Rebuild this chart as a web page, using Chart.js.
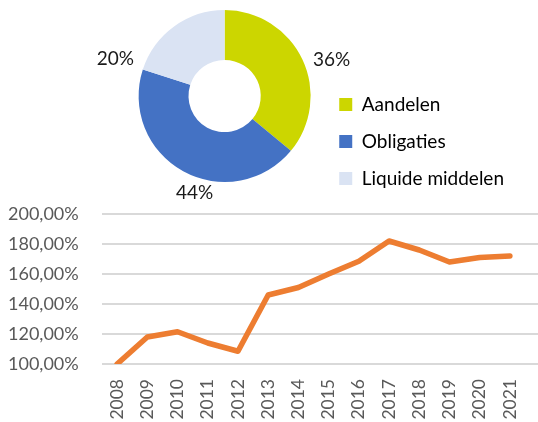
<!DOCTYPE html>
<html>
<head>
<meta charset="utf-8">
<script src="https://cdn.jsdelivr.net/npm/chart.js@4.4.0/dist/chart.umd.min.js"></script>
<style>
  html, body { margin: 0; padding: 0; background: #fff; }
  #wrap { position: relative; width: 538px; height: 422px; overflow: hidden; }
  #pieBox { position: absolute; left: 0; top: 0; width: 538px; height: 212px; }
  #lineBox { position: absolute; left: 0; top: 200px; width: 538px; height: 222px; }
</style>
</head>
<body>
<div id="wrap">
  <div id="pieBox"><canvas id="pieChart"></canvas></div>
  <div id="lineBox"><canvas id="lineChart"></canvas></div>
</div>
<script>
// allocation
const assetLabels = ["Aandelen", "Obligaties", "Liquide middelen"];
const assetShares = [36, 44, 20];
const assetColors = ["#CCD600", "#4472C4", "#DAE3F3"];

// performance since 2008
const years = [2008, 2009, 2010, 2011, 2012, 2013, 2014, 2015, 2016, 2017, 2018, 2019, 2020, 2021];
const indexValues = [100, 118, 121.5, 114, 108.5, 146, 151, 160, 168.5, 182, 176, 168, 171, 172];
const yTicks = [100, 120, 140, 160, 180, 200];

const fontFamily = "Lato, 'Open Sans', sans-serif";

// nudges for the percentage labels (Excel placed them by hand)
const labelNudges = [[11, 9], [21, 4], [-47, 49]];

const pctLabels = {
  id: "pctLabels",
  afterDatasetsDraw(chart) {
    const ctx = chart.ctx;
    const meta = chart.getDatasetMeta(0);
    ctx.save();
    ctx.font = "19px " + fontFamily;
    ctx.fillStyle = "#1a1a1a";
    ctx.textAlign = "center";
    ctx.textBaseline = "middle";
    meta.data.forEach((arc, i) => {
      const a = (arc.startAngle + arc.endAngle) / 2;
      const r = arc.outerRadius + 20;
      const x = arc.x + Math.cos(a) * r + labelNudges[i][0];
      const y = arc.y + Math.sin(a) * r + labelNudges[i][1];
      ctx.fillText(chart.data.datasets[0].data[i] + "%", x, y);
    });
    ctx.restore();
  }
};

// push the legend column down a bit, like the original
const legendShift = {
  id: "legendShift",
  afterLayout(chart) {
    chart.legend.top += 14;
    chart.legend.bottom += 14;
  }
};

new Chart(document.getElementById("pieChart"), {
  type: "doughnut",
  data: {
    labels: assetLabels,
    datasets: [{
      data: assetShares,
      backgroundColor: assetColors,
      borderWidth: 0,
      radius: 86,
      cutout: "42%"
    }]
  },
  options: {
    responsive: true,
    maintainAspectRatio: false,
    animation: false,
    layout: { padding: { top: 0, bottom: 20, left: 128, right: 24 } },
    plugins: {
      tooltip: { enabled: false },
      legend: {
        position: "right",
        align: "end",
        labels: {
          boxWidth: 13,
          boxHeight: 13,
          padding: 18,
          color: "#000",
          font: { family: fontFamily, size: 19 }
        }
      }
    }
  },
  plugins: [pctLabels, legendShift]
});

new Chart(document.getElementById("lineChart"), {
  type: "line",
  data: {
    datasets: [{
      data: years.map((y, i) => ({ x: y, y: indexValues[i] })),
      borderColor: "#ED7D31",
      borderWidth: 5.5,
      borderCapStyle: "round",
      borderJoinStyle: "round",
      pointRadius: 0,
      tension: 0,
      fill: false
    }]
  },
  options: {
    responsive: true,
    maintainAspectRatio: false,
    animation: false,
    layout: { padding: { top: 14, right: 0, left: 8, bottom: 0 } },
    plugins: { legend: { display: false }, tooltip: { enabled: false } },
    scales: {
      x: {
        type: "linear",
        min: 2007.5,
        max: 2021.93,
        afterBuildTicks: (s) => { s.ticks = years.map(v => ({ value: v })); },
        afterFit: (s) => { s.height = 58; },
        grid: {
          display: true,
          drawOnChartArea: false,
          color: "rgba(0,0,0,0)",
          drawTicks: true,
          tickLength: 15
        },
        border: { display: false },
        ticks: {
          minRotation: 90,
          maxRotation: 90,
          padding: 0,
          color: "#595959",
          font: { family: fontFamily, size: 17.5 },
          callback: (v) => String(v)
        }
      },
      y: {
        min: 100,
        max: 200,
        afterBuildTicks: (s) => { s.ticks = yTicks.map(v => ({ value: v })); },
        afterFit: (s) => { s.width = 94; },
        grid: { color: "#D9D9D9", lineWidth: 2, drawTicks: false },
        border: { display: false },
        ticks: {
          padding: 2,
          crossAlign: "far",
          color: "#595959",
          font: { family: fontFamily, size: 18 },
          callback: (v) => v.toFixed(2).replace(".", ",") + "%"
        }
      }
    }
  }
});
</script>
</body>
</html>
